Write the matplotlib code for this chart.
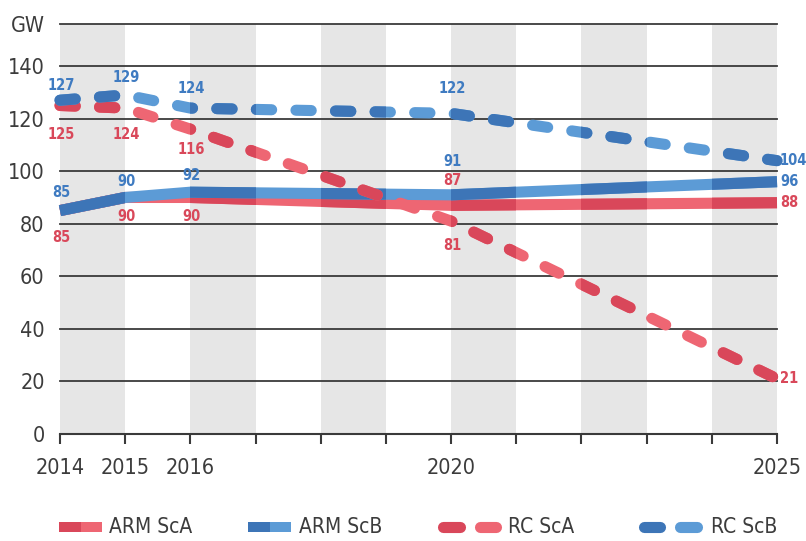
import os
import matplotlib
matplotlib.use("Agg")
import matplotlib.pyplot as plt
from matplotlib.path import Path
from matplotlib.lines import Line2D
from matplotlib.patches import Rectangle
from matplotlib import font_manager as fm

# ---------------- data ----------------
years = [2014, 2015, 2016, 2020, 2025]
arm_sca = [85, 90, 90, 87, 88]
arm_scb = [85, 90, 92, 91, 96]
rc_sca = [125, 124, 116, 81, 21]
rc_scb = [127, 129, 124, 122, 104]
xtick_years = [2014, 2015, 2016, 2020, 2025]
yticks = [0, 20, 40, 60, 80, 100, 120, 140]
legend_labels = ["ARM ScA", "ARM ScB", "RC ScA", "RC ScB"]

# ---------------- fonts ----------------
files = {os.path.basename(f.fname): f.fname for f in fm.fontManager.ttflist}
cands = [("LiberationSansNarrow-Regular.ttf", "LiberationSansNarrow-Bold.ttf"),
         ("DejaVuSansCondensed.ttf", "DejaVuSansCondensed-Bold.ttf"),
         ("RobotoCondensed-Regular.ttf", "RobotoCondensed-Bold.ttf")]
FP = FPB = None
for reg, bold in cands:
    if reg in files:
        FP = fm.FontProperties(fname=files[reg])
        FPB = fm.FontProperties(fname=files.get(bold, files[reg]))
        break
if FP is None:
    FP = fm.FontProperties(family="Roboto")
    FPB = fm.FontProperties(family="Roboto", weight="bold")

def fp(size, bold=False):
    p = (FPB if bold else FP).copy()
    p.set_size(size)
    return p

BLUE_L, BLUE_D = "#5c9bd6", "#3d75b7"
RED_L, RED_D = "#ee6673", "#d9475a"
BLUE_T, RED_T = "#3f7bc1", "#d9485a"
BAND = "#e6e6e6"
GRID = "#3a3a3a"
TXT = "#3c3c3c"

W, H = 806, 541
fig = plt.figure(figsize=(W / 100, H / 100), dpi=100)
L, R, B, T = 60, 777, 434, 24
ax = fig.add_axes([L / W, 1 - B / H, (R - L) / W, (B - T) / H])
ax.set_xlim(2014, 2025)
ax.set_ylim(0, 156)

# background bands
gray_starts = list(range(2014, 2025, 2))
for s in gray_starts:
    ax.axvspan(s, s + 1, color=BAND, lw=0, zorder=0)

# grid lines
for v in yticks[1:] + [156]:
    ax.axhline(v, color=GRID, lw=1.3, zorder=1, clip_on=False)

for sp in ["top", "right", "left"]:
    ax.spines[sp].set_visible(False)
ax.spines["bottom"].set_color(GRID)
ax.spines["bottom"].set_linewidth(1.5)
ax.spines["bottom"].set_zorder(1)

ax.set_xticks(range(2014, 2026))
ax.set_xticklabels([str(y) if y in xtick_years else "" for y in range(2014, 2026)],
                   fontproperties=fp(15.5), color=TXT)
ax.tick_params(axis="x", length=7, width=1.5, color=GRID, pad=10)
ax.set_yticks(yticks + [156])
ax.set_yticklabels([str(v) for v in yticks] + ["GW"], fontproperties=fp(15.5), color=TXT)
ax.tick_params(axis="y", length=0, pad=11)

# clip path = gray bands (dark tone of lines)
verts, codes = [], []
for i, s in enumerate(gray_starts):
    x0 = s if i > 0 else s - 1
    x1 = s + 1 if s + 1 < 2025 else s + 2
    verts += [(x0, -50), (x1, -50), (x1, 300), (x0, 300), (x0, -50)]
    codes += [Path.MOVETO, Path.LINETO, Path.LINETO, Path.LINETO, Path.CLOSEPOLY]
band_path = Path(verts, codes)

LW = 8.0
dash = (0, (11.0 / LW, 17.5 / LW))

def draw(vals, light, dark, dashed, z):
    ls = dash if dashed else "-"
    kw = dict(lw=LW, solid_capstyle="butt", dash_capstyle="round",
              solid_joinstyle="round")
    ax.plot(years, vals, color=light, ls=ls, zorder=z, clip_on=False, **kw)
    ln, = ax.plot(years, vals, color=dark, ls=ls, zorder=z + 0.1, clip_on=True, **kw)
    ln.set_clip_box(None)
    ln.set_clip_path(band_path, ax.transData)

draw(arm_sca, RED_L, RED_D, False, 3)
draw(arm_scb, BLUE_L, BLUE_D, False, 4)
draw(rc_sca, RED_L, RED_D, True, 5)
draw(rc_scb, BLUE_L, BLUE_D, True, 6)

# ---------------- data labels ----------------
lab_kw = dict(textcoords="offset pixels", ha="center", va="center",
              annotation_clip=False, zorder=10)
LSZ = 10.5

def labels(vals, color, offs):
    for x, v, off in zip(years[:-1], vals[:-1], offs):
        ax.annotate(str(v), (x, v), xytext=(1, off), color=color,
                    fontproperties=fp(LSZ, True), **lab_kw)
    ax.annotate(str(vals[-1]), (years[-1], vals[-1]), xytext=(3, 0), color=color,
                fontproperties=fp(LSZ, True), **{**lab_kw, "ha": "left"})

labels(rc_scb, BLUE_T, [15, 17, 20, 25])
labels(rc_sca, RED_T, [-29, -26, -20, -24])
labels(arm_scb, BLUE_T, [18, 16, 17, 33])
labels(arm_sca, RED_T, [-27, -19, -19, 25])

# ---------------- legend ----------------
ly = 527

def fx(px):
    return px / W

def fy(py):
    return 1 - py / H

def rect_sw(x0, x1, light, dark):
    xm = (x0 + x1) / 2
    fig.add_artist(Rectangle((fx(x0), fy(ly + 5)), fx(xm - x0), 10 / H, color=dark, lw=0))
    fig.add_artist(Rectangle((fx(xm), fy(ly + 5)), fx(x1 - xm), 10 / H, color=light, lw=0))

def pill_sw(x0, x1, light, dark):
    cap = 5.5
    w = (x1 - x0 - 9) / 2
    for a, c in [(x0, dark), (x0 + w + 9, light)]:
        fig.add_artist(Line2D([fx(a + cap), fx(a + w - cap)], [fy(ly), fy(ly)],
                              lw=8, color=c, solid_capstyle="round"))

def ltext(x, s):
    fig.text(fx(x), fy(ly), s, fontproperties=fp(15), color=TXT, ha="left", va="center")

rect_sw(59, 102, RED_L, RED_D)
ltext(109, legend_labels[0])
rect_sw(248, 291, BLUE_L, BLUE_D)
ltext(299, legend_labels[1])
pill_sw(438, 501, RED_L, RED_D)
ltext(508, legend_labels[2])
pill_sw(638, 702, BLUE_L, BLUE_D)
ltext(711, legend_labels[3])

fig.savefig("out.png", dpi=100)
